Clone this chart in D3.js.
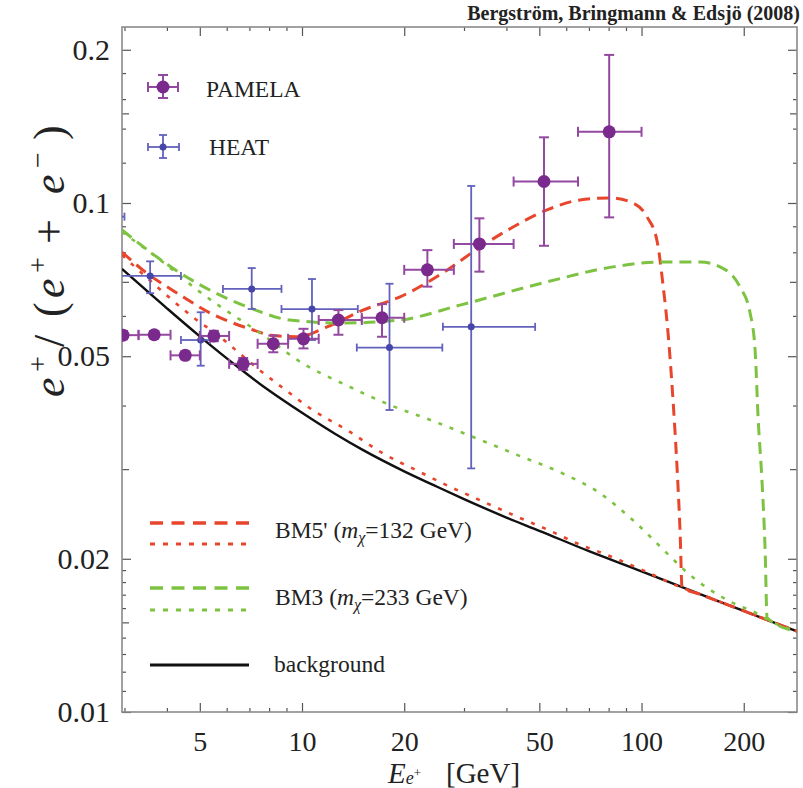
<!DOCTYPE html>
<html>
<head>
<meta charset="utf-8">
<script src="https://cdn.jsdelivr.net/npm/d3@7"></script>
<style>
body { margin: 0; background: #fff; }
text { font-family: "Liberation Serif", "Times New Roman", serif; }
</style>
</head>
<body>
<div id="chart"></div>
<script>
// PAMELA positron fraction (energy bins + errors)
var pamelaE   = [2.97, 3.67, 4.53, 5.50, 6.71, 8.23, 10.1, 12.8, 17.2, 23.4, 33.3, 51.6, 80.3];
var pamelaELo = [2.7, 3.3, 4.1, 5.0, 6.1, 7.4, 9.1, 11.2, 15.0, 20.0, 28.0, 42.0, 65.0];
var pamelaEHi = [3.3, 4.1, 5.0, 6.1, 7.4, 9.1, 11.2, 15.0, 20.0, 28.0, 42.0, 65.0, 100.0];
var pamelaV   = [0.0550, 0.0551, 0.0502, 0.0548, 0.0483, 0.0529, 0.0541, 0.0589, 0.0595, 0.0739, 0.0831, 0.1102, 0.1380];
var pamelaVLo = [0.0540, 0.0542, 0.0493, 0.0535, 0.0470, 0.0509, 0.0518, 0.0551, 0.0546, 0.0685, 0.0733, 0.0824, 0.0937];
var pamelaVHi = [0.0560, 0.0560, 0.0511, 0.0561, 0.0496, 0.0549, 0.0566, 0.0616, 0.0633, 0.0808, 0.0933, 0.1346, 0.1954];

// HEAT
var heatE   = [2.55, 3.57, 5.03, 7.11, 10.7, 18.1, 31.5];
var heatELo = [2.2, 2.9, 4.4, 5.85, 8.7, 14.5, 26.0];
var heatEHi = [3.0, 4.4, 5.36, 8.7, 14.6, 25.9, 48.6];
var heatV   = [0.094, 0.0719, 0.0538, 0.0678, 0.0619, 0.0520, 0.0571];
var heatVLo = [0.088, 0.0665, 0.0479, 0.0619, 0.0538, 0.0392, 0.0301];
var heatVHi = [0.100, 0.0768, 0.0610, 0.0745, 0.0709, 0.0694, 0.1080];

// background
var bgE = [2.95, 4, 5, 6.5, 8, 10, 12.5, 15, 20, 25, 30, 40, 50, 70, 100, 150, 200, 287];
var bgV = [0.0742, 0.0621, 0.0547, 0.0475, 0.0428, 0.0387, 0.0352, 0.0328, 0.0297, 0.0277, 0.0262, 0.0241, 0.0227, 0.0207, 0.0189, 0.0170, 0.0158, 0.0144];

// BM5' total (dashed) and dotted
var bm5E = [2.95, 3.40, 4.37, 5.36, 7.18, 8.05, 9.67, 11.85, 15.12, 19.44, 26.74, 33.44, 41.83, 52.68, 65.91, 80.76, 94.41, 103.8, 111.1, 115.7, 119.7, 123.8, 127.2, 129.9, 131.6, 150, 200, 287];
var bm5V = [0.0801, 0.0738, 0.0660, 0.0608, 0.0563, 0.0550, 0.0546, 0.0571, 0.0616, 0.0654, 0.0738, 0.0819, 0.0897, 0.0969, 0.1014, 0.1023, 0.1000, 0.0939, 0.0842, 0.0690, 0.0555, 0.0410, 0.0303, 0.0225, 0.0176, 0.0170, 0.0158, 0.0144];
var bm5dE = [2.95, 3.40, 4.77, 5.73, 6.70, 7.37, 8.79, 10.69, 13.85, 17.33, 21.82, 27.3, 34.13, 42.98, 53.77, 67.26, 75.47, 98.99, 130, 150, 200, 287];
var bm5dV = [0.0790, 0.0725, 0.0597, 0.0546, 0.0500, 0.0474, 0.0433, 0.0393, 0.0355, 0.0322, 0.0298, 0.0277, 0.0259, 0.0242, 0.0227, 0.0212, 0.0206, 0.0191, 0.0176, 0.0170, 0.0158, 0.0144];

// BM3 total (dashed) and dotted
var bm3E = [2.95, 4.37, 7.03, 9.22, 13.21, 19.44, 29.2, 52.68, 82.43, 115.7, 148.7, 170.3, 195.0, 208.8, 216.0, 220.4, 226.5, 231.2, 234.3, 287];
var bm3V = [0.0885, 0.0729, 0.0622, 0.0589, 0.0581, 0.0589, 0.0630, 0.0700, 0.0749, 0.0766, 0.0766, 0.0749, 0.0684, 0.0608, 0.0514, 0.0380, 0.0282, 0.0208, 0.0153, 0.0144];
var bm3dE = [2.95, 3.82, 5.0, 8.05, 9.67, 13.85, 18.16, 24.31, 31.25, 42.98, 58.73, 75.47, 94.41, 118.9, 136.1, 178.6, 223.4, 234.3, 287];
var bm3dV = [0.0877, 0.0773, 0.0669, 0.0538, 0.0492, 0.0435, 0.0401, 0.0373, 0.0349, 0.0320, 0.0294, 0.0269, 0.0238, 0.0205, 0.0188, 0.0166, 0.0155, 0.0152, 0.0144];

// ticks
var xTickVals  = [5, 10, 20, 50, 100, 200];
var xMinorVals = [3, 4, 6, 7, 8, 9, 30, 40, 60, 70, 80, 90];
var yTickVals  = [0.01, 0.02, 0.05, 0.1, 0.2];
var yMidVals   = [0.015, 0.03, 0.07, 0.15];
var yMinorVals = [0.011, 0.012, 0.013, 0.014, 0.016, 0.017, 0.018, 0.019, 0.04, 0.06, 0.08, 0.09, 0.12, 0.14, 0.16, 0.18];

const width = 803, height = 788;
const plotLeft = 122, plotRight = 797, plotTop = 27, plotBottom = 712;

const colRed = "#e8462c", colGreen = "#7ec242", colPurple = "#7a2a8c", colBlue = "#4646a8";

var svg = d3.select("#chart").append("svg")
    .attr("width", width)
    .attr("height", height);

var x = d3.scaleLog().domain([2.95, 287]).range([plotLeft, plotRight]);
var y = d3.scaleLog().domain([0.01, 0.2217]).range([plotBottom, plotTop]);

svg.append("defs").append("clipPath")
    .attr("id", "plotclip")
    .append("rect")
    .attr("x", plotLeft).attr("y", plotTop)
    .attr("width", plotRight - plotLeft).attr("height", plotBottom - plotTop);

//title
svg.append("text")
    .attr("x", 800).attr("y", 20)
    .attr("text-anchor", "end")
    .style("font-size", "20px")
    .style("font-weight", "bold")
    .attr("fill", "#222")
    .text("Bergström, Bringmann & Edsjö (2008)");

//axes
function addAxis(axis, tx, ty, size, vals, fmt, pad) {
    var g = svg.append("g")
        .attr("transform", "translate(" + tx + "," + ty + ")")
        .call(axis.tickValues(vals).tickSize(size).tickPadding(pad || 0).tickFormat(fmt || ""));
    g.select(".domain").remove();
    g.selectAll("line").attr("stroke", "#555").attr("stroke-width", 1.2);
    return g;
}

var xl = addAxis(d3.axisBottom(x), 0, plotBottom, -9, xTickVals, d3.format("d"), 19);
addAxis(d3.axisBottom(x), 0, plotBottom, -4, xMinorVals);
addAxis(d3.axisTop(x), 0, plotTop, -9, xTickVals);
addAxis(d3.axisTop(x), 0, plotTop, -4, xMinorVals);

var yl = addAxis(d3.axisLeft(y), plotLeft, 0, -9, yTickVals, function(d) { return String(d); }, 12);
addAxis(d3.axisLeft(y), plotLeft, 0, -7, yMidVals);
addAxis(d3.axisLeft(y), plotLeft, 0, -4, yMinorVals);
addAxis(d3.axisRight(y), plotRight, 0, -9, yTickVals);
addAxis(d3.axisRight(y), plotRight, 0, -7, yMidVals);
addAxis(d3.axisRight(y), plotRight, 0, -4, yMinorVals);

xl.selectAll("text").style("font-size", "28px").style("font-family", "Liberation Serif").attr("fill", "#222");
yl.selectAll("text").style("font-size", "30px").style("font-family", "Liberation Serif").attr("fill", "#222");

//frame
svg.append("rect")
    .attr("x", plotLeft).attr("y", plotTop)
    .attr("width", plotRight - plotLeft).attr("height", plotBottom - plotTop)
    .attr("fill", "none")
    .attr("stroke", "#8a8a8a")
    .attr("stroke-width", 1.6);

//curves
var plot = svg.append("g").attr("clip-path", "url(#plotclip)");

var line = d3.line()
    .x(function(d) { return x(d[0]); })
    .y(function(d) { return y(d[1]); })
    .curve(d3.curveMonotoneX);

function addCurve(es, vs, color, w, dash) {
    plot.append("path")
        .datum(d3.zip(es, vs))
        .attr("d", line)
        .attr("fill", "none")
        .attr("stroke", color)
        .attr("stroke-width", w)
        .attr("stroke-dasharray", dash);
}

addCurve(bgE, bgV, "#111", 2.4, null);
addCurve(bm5dE, bm5dV, colRed, 2.6, "4,8");
addCurve(bm5E, bm5V, colRed, 3, "12,7");
addCurve(bm3dE, bm3dV, colGreen, 2.6, "4,8");
addCurve(bm3E, bm3V, colGreen, 3, "12,7");

//data points
function errPoint(g, cx, cy, x0, x1, y0, y1, r, color, barColor, bw, cap) {
    g.append("line").attr("x1", x0).attr("x2", x1).attr("y1", cy).attr("y2", cy)
        .attr("stroke", barColor).attr("stroke-width", bw);
    g.append("line").attr("x1", cx).attr("x2", cx).attr("y1", y0).attr("y2", y1)
        .attr("stroke", barColor).attr("stroke-width", bw);
    [x0, x1].forEach(function(xx) {
        g.append("line").attr("x1", xx).attr("x2", xx).attr("y1", cy - cap).attr("y2", cy + cap)
            .attr("stroke", barColor).attr("stroke-width", bw);
    });
    [y0, y1].forEach(function(yy) {
        g.append("line").attr("x1", cx - cap).attr("x2", cx + cap).attr("y1", yy).attr("y2", yy)
            .attr("stroke", barColor).attr("stroke-width", bw);
    });
    g.append("circle").attr("cx", cx).attr("cy", cy).attr("r", r).attr("fill", color);
}

var heatG = plot.append("g");
heatE.forEach(function(e, i) {
    errPoint(heatG, x(e), y(heatV[i]), x(heatELo[i]), x(heatEHi[i]), y(heatVLo[i]), y(heatVHi[i]),
        3.5, colBlue, "#6262bc", 1.8, 4);
});

var pamG = plot.append("g");
pamelaE.forEach(function(e, i) {
    errPoint(pamG, x(e), y(pamelaV[i]), x(pamelaELo[i]), x(pamelaEHi[i]), y(pamelaVLo[i]), y(pamelaVHi[i]),
        6.5, colPurple, "#93499f", 2, 5);
});

//legend (data)
var leg = svg.append("g");
errPoint(leg, 163, 87, 148, 178, 75, 98, 6.5, colPurple, "#93499f", 2, 5);
errPoint(leg, 163, 147, 148, 179, 135, 158, 3.5, colBlue, "#6262bc", 1.8, 4);
leg.append("text").attr("x", 206).attr("y", 97).style("font-size", "23.5px").attr("fill", "#222").text("PAMELA");
leg.append("text").attr("x", 209).attr("y", 155).style("font-size", "23.5px").attr("fill", "#222").text("HEAT");

//legend (models)
function legLine(y0, color, w, dash) {
    leg.append("line").attr("x1", 150).attr("x2", 249).attr("y1", y0).attr("y2", y0)
        .attr("stroke", color).attr("stroke-width", w).attr("stroke-dasharray", dash);
}
legLine(523, colRed, 3.5, "13,8.5");
legLine(544, colRed, 2.8, "5,8");
legLine(588, colGreen, 3.5, "13,8.5");
legLine(610, colGreen, 2.8, "5,8");
legLine(665, "#111", 3, null);

function modelLabel(y0, name, mass) {
    var t = leg.append("text").attr("x", 275).attr("y", y0).style("font-size", "23.5px").attr("fill", "#222");
    t.append("tspan").text(name + " (");
    t.append("tspan").style("font-style", "italic").text("m");
    t.append("tspan").style("font-style", "italic").style("font-size", "16px").attr("dy", 5).text("χ");
    t.append("tspan").attr("dy", -5).text("=" + mass + " GeV)");
}
modelLabel(538, "BM5'", 132);
modelLabel(605, "BM3", 233);
leg.append("text").attr("x", 274).attr("y", 672).style("font-size", "23.5px").attr("fill", "#222").text("background");

//axis titles
var xt = svg.append("text").attr("x", 388).attr("y", 783).style("font-size", "29px").attr("fill", "#222");
xt.append("tspan").style("font-style", "italic").text("E");
xt.append("tspan").style("font-style", "italic").style("font-size", "18px").attr("dy", 1).text("e");
xt.append("tspan").style("font-size", "13px").attr("dy", -7).text("+");
xt.append("tspan").attr("x", 446).attr("dy", 6).text("[GeV]");

// y title: glyphs placed along the rotated baseline
var yt = svg.append("text")
    .attr("transform", "translate(64,397) rotate(-90)")
    .style("font-size", "44px")
    .attr("fill", "#222");
var yParts = [
    {t: "e", x: 0, dy: 0, it: true},
    {t: "+", x: 25, dy: -17, sup: true},
    {t: "/", x: 50, dy: 17},
    {t: "(", x: 80, dy: 0},
    {t: "e", x: 99, dy: 0, it: true},
    {t: "+", x: 124, dy: -17, sup: true},
    {t: "+", x: 153, dy: 17},
    {t: "e", x: 203, dy: 0, it: true},
    {t: "−", x: 229, dy: -17, sup: true},
    {t: ")", x: 257, dy: 17}
];
yParts.forEach(function(p) {
    yt.append("tspan")
        .attr("x", p.x)
        .attr("dy", p.dy)
        .style("font-style", p.it ? "italic" : "normal")
        .style("font-size", p.sup ? "28px" : "44px")
        .text(p.t);
});
</script>
</body>
</html>
